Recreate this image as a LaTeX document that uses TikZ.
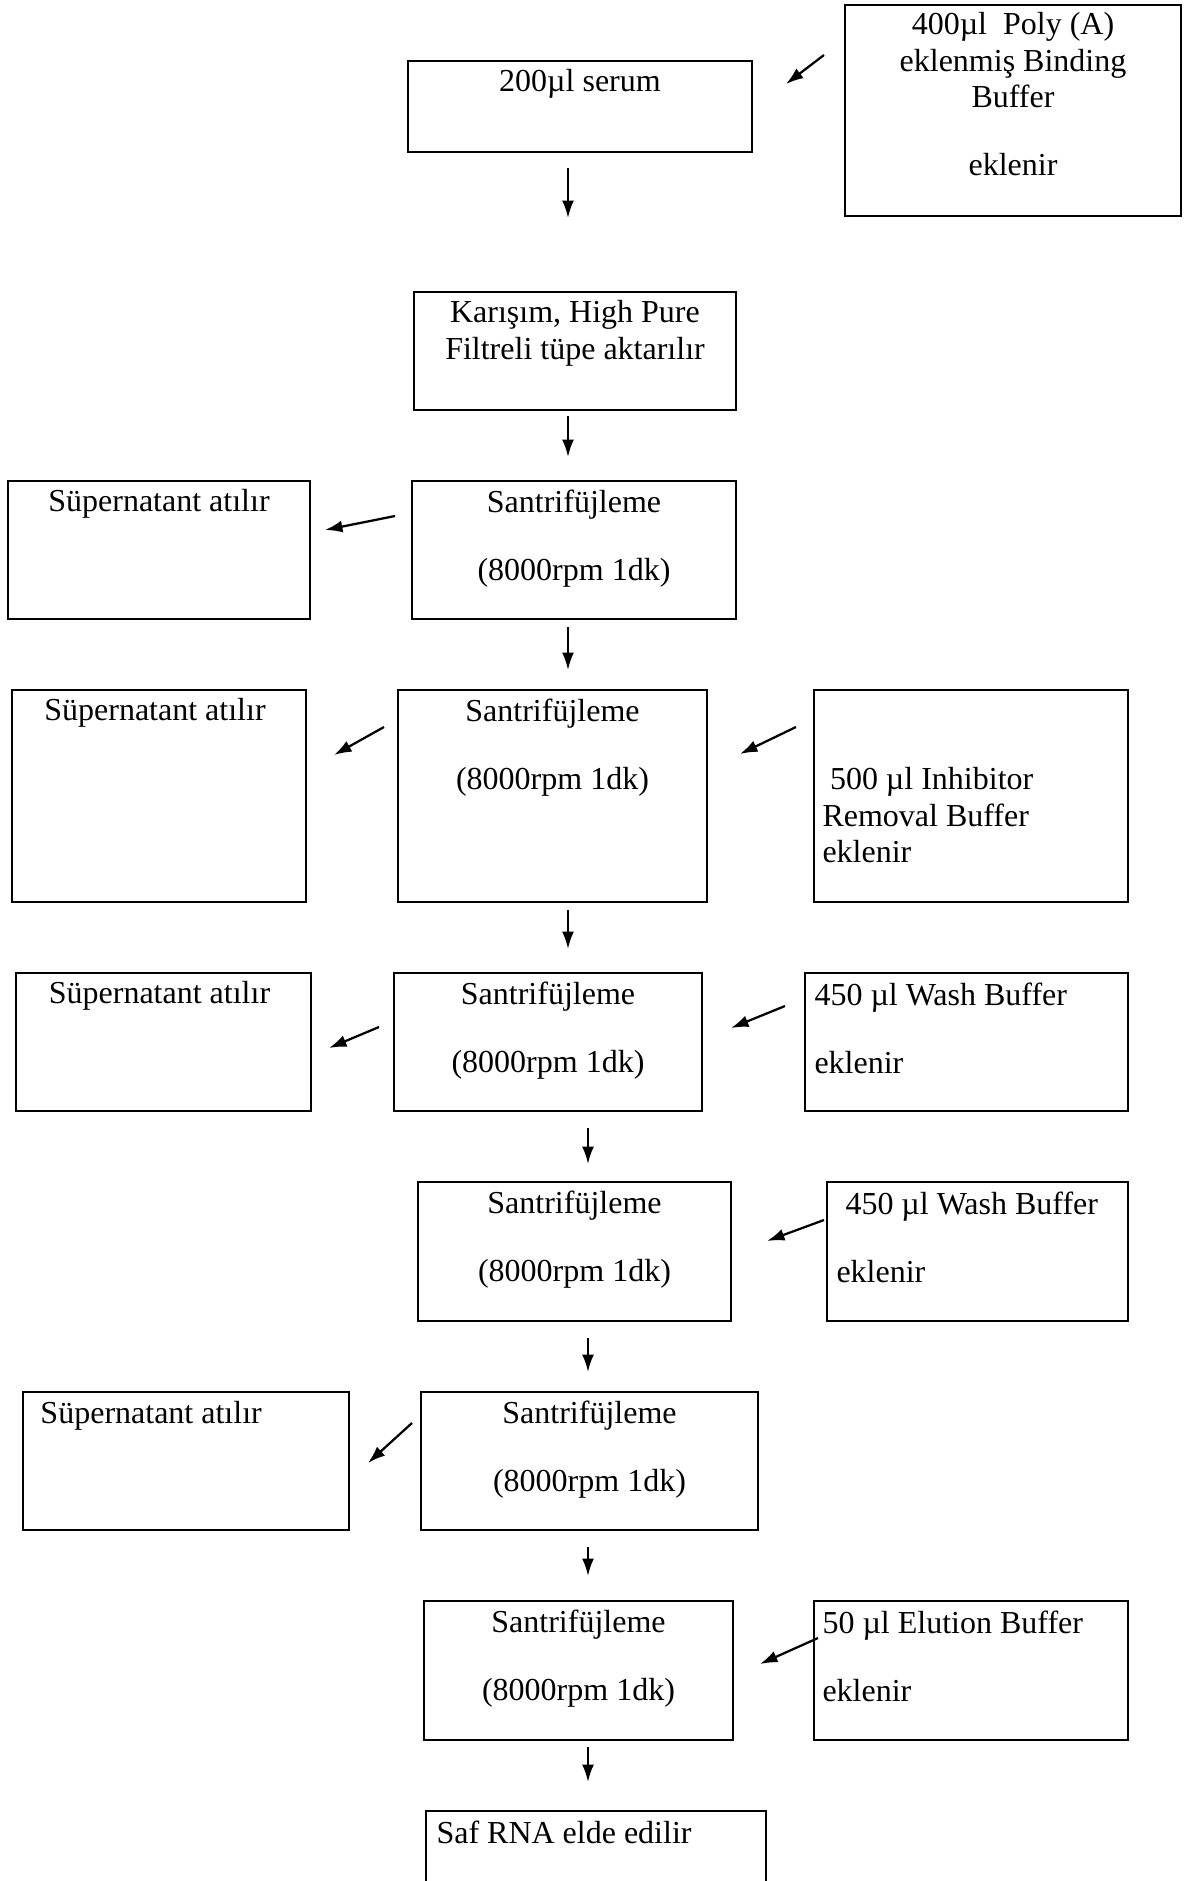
\documentclass[tikz,border=0pt]{standalone}
\usepackage{fontspec}
\setmainfont{Liberation Serif}
\usetikzlibrary{fit,calc,arrows.meta}

\tikzset{
  box/.style={draw, line width=0.8pt, inner sep=0pt},
  lbl/.style={font=\fontsize{12.8}{14.6}\selectfont, inner sep=0pt, align=center, anchor=north},
  lbll/.style={font=\fontsize{12.8}{14.6}\selectfont, inner sep=0pt, align=left, anchor=north west},
  arr/.style={-{Latex[length=7pt,width=4.8pt]}, line width=0.9pt}
}
\newcommand{\gap}{\\[12.7pt]}

\begin{document}
\begin{tikzpicture}[x=0.4pt,y=-0.4pt]
                    \useasboundingbox (0,0) rectangle (1195,1881);
                    \clip (0,0) rectangle (1195,1881);
                    \node[box, fit={(408,61) (752,152)}] (serum) {};
                    \node[box, fit={(845,5) (1181,216)}] (bind) {};
                    \node[box, fit={(414,292) (736,410)}] (filtre) {};
                    \node[box, fit={(8,481) (310,619)}] (atil1) {};
                    \node[box, fit={(412,481) (736,619)}] (sant1) {};
                    \node[box, fit={(12,690) (306,902)}] (atil2) {};
                    \node[box, fit={(398,690) (707,902)}] (sant2) {};
                    \node[box, fit={(814,690) (1128,902)}] (inhib) {};
                    \node[box, fit={(16,973) (311,1111)}] (atil3) {};
                    \node[box, fit={(394,973) (702,1111)}] (sant3) {};
                    \node[box, fit={(805,973) (1128,1111)}] (wash1) {};
                    \node[box, fit={(418,1182) (731,1321)}] (sant4) {};
                    \node[box, fit={(827,1182) (1128,1321)}] (wash2) {};
                    \node[box, fit={(23,1392) (349,1530)}] (atil5) {};
                    \node[box, fit={(421,1392) (758,1530)}] (sant5) {};
                    \node[box, fit={(424,1601) (733,1740)}] (sant6) {};
                    \node[box, fit={(814,1601) (1128,1740)}] (elut) {};
                    \node[box, fit={(426,1811) (766,1900)}] (rna) {};

                    \node[lbl] (serumt) at ($(serum.north)+(0,9)$) {200µl serum};
                    \node[lbl] (bindt) at ($(bind.north)+(0,8)$) {400µl\ \ Poly (A)\\eklenmiş Binding\\Buffer\gap eklenir};
                    \node[lbl] (filtret) at ($(filtre.north)+(0,9)$) {Karışım, High Pure\\Filtreli tüpe aktarılır};
                    \node[lbl] (atil1t) at ($(atil1.north)+(0,9)$) {Süpernatant atılır};
                    \node[lbl] (sant1t) at ($(sant1.north)+(0,9)$) {Santrifüjleme\gap(8000rpm 1dk)};
                    \node[lbl] (atil2t) at ($(atil2.north)+(-4,9)$) {Süpernatant atılır};
                    \node[lbl] (sant2t) at ($(sant2.north)+(0,9)$) {Santrifüjleme\gap(8000rpm 1dk)};
                    \node[lbll] (inhibt) at (822,767) {\hspace*{3pt}500 µl Inhibitor\\Removal Buffer\\eklenir};
                    \node[lbl] (atil3t) at ($(atil3.north)+(-4,9)$) {Süpernatant atılır};
                    \node[lbl] (sant3t) at ($(sant3.north)+(0,9)$) {Santrifüjleme\gap(8000rpm 1dk)};
                    \node[lbll] (wash1t) at (814,982) {450 µl Wash Buffer\gap eklenir};
                    \node[lbl] (sant4t) at ($(sant4.north)+(0,9)$) {Santrifüjleme\gap(8000rpm 1dk)};
                    \node[lbll] (wash2t) at (836,1191) {\hspace*{3.6pt}450 µl Wash Buffer\gap eklenir};
                    \node[lbll] (atil5t) at (40,1401) {Süpernatant atılır};
                    \node[lbl] (sant5t) at ($(sant5.north)+(0,9)$) {Santrifüjleme\gap(8000rpm 1dk)};
                    \node[lbl] (sant6t) at ($(sant6.north)+(0,9)$) {Santrifüjleme\gap(8000rpm 1dk)};
                    \node[lbll] (elutt) at (822,1610) {50 µl Elution Buffer\gap eklenir};
                    \node[lbll] (rnat) at (436,1820) {Saf RNA elde edilir};

                    \coordinate (p1) at (824,55);   \coordinate (q1) at (786,84);
                    \coordinate (p2) at (568,168);  \coordinate (q2) at (568,218);
                    \coordinate (p3) at (568,416);  \coordinate (q3) at (568,457);
                    \coordinate (p4) at (395,516);  \coordinate (q4) at (325,530);
                    \coordinate (p5) at (568,627);  \coordinate (q5) at (568,670);
                    \coordinate (p6) at (796,727);  \coordinate (q6) at (740,754);
                    \coordinate (p7) at (384,727);  \coordinate (q7) at (334,755);
                    \coordinate (p8) at (568,910);  \coordinate (q8) at (568,949);
                    \coordinate (p9) at (785,1006); \coordinate (q9) at (731,1028);
                    \coordinate (p10) at (379,1027); \coordinate (q10) at (329,1048);
                    \coordinate (p11) at (588,1128); \coordinate (q11) at (588,1164);
                    \coordinate (p12) at (824,1220); \coordinate (q12) at (767,1241);
                    \coordinate (p13) at (588,1338); \coordinate (q13) at (588,1372);
                    \coordinate (p14) at (412,1423); \coordinate (q14) at (368,1463);
                    \coordinate (p15) at (588,1547); \coordinate (q15) at (588,1576);
                    \coordinate (p16) at (818,1638); \coordinate (q16) at (760,1664);
                    \coordinate (p17) at (588,1747); \coordinate (q17) at (588,1782);
                    \draw[arr] (p1) -- (q1);
                    \draw[arr] (p2) -- (q2);
                    \draw[arr] (p3) -- (q3);
                    \draw[arr] (p4) -- (q4);
                    \draw[arr] (p5) -- (q5);
                    \draw[arr] (p6) -- (q6);
                    \draw[arr] (p7) -- (q7);
                    \draw[arr] (p8) -- (q8);
                    \draw[arr] (p9) -- (q9);
                    \draw[arr] (p10) -- (q10);
                    \draw[arr] (p11) -- (q11);
                    \draw[arr] (p12) -- (q12);
                    \draw[arr] (p13) -- (q13);
                    \draw[arr] (p14) -- (q14);
                    \draw[arr] (p15) -- (q15);
                    \draw[arr] (p16) -- (q16);
                    \draw[arr] (p17) -- (q17);
                \end{tikzpicture}
\end{document}
